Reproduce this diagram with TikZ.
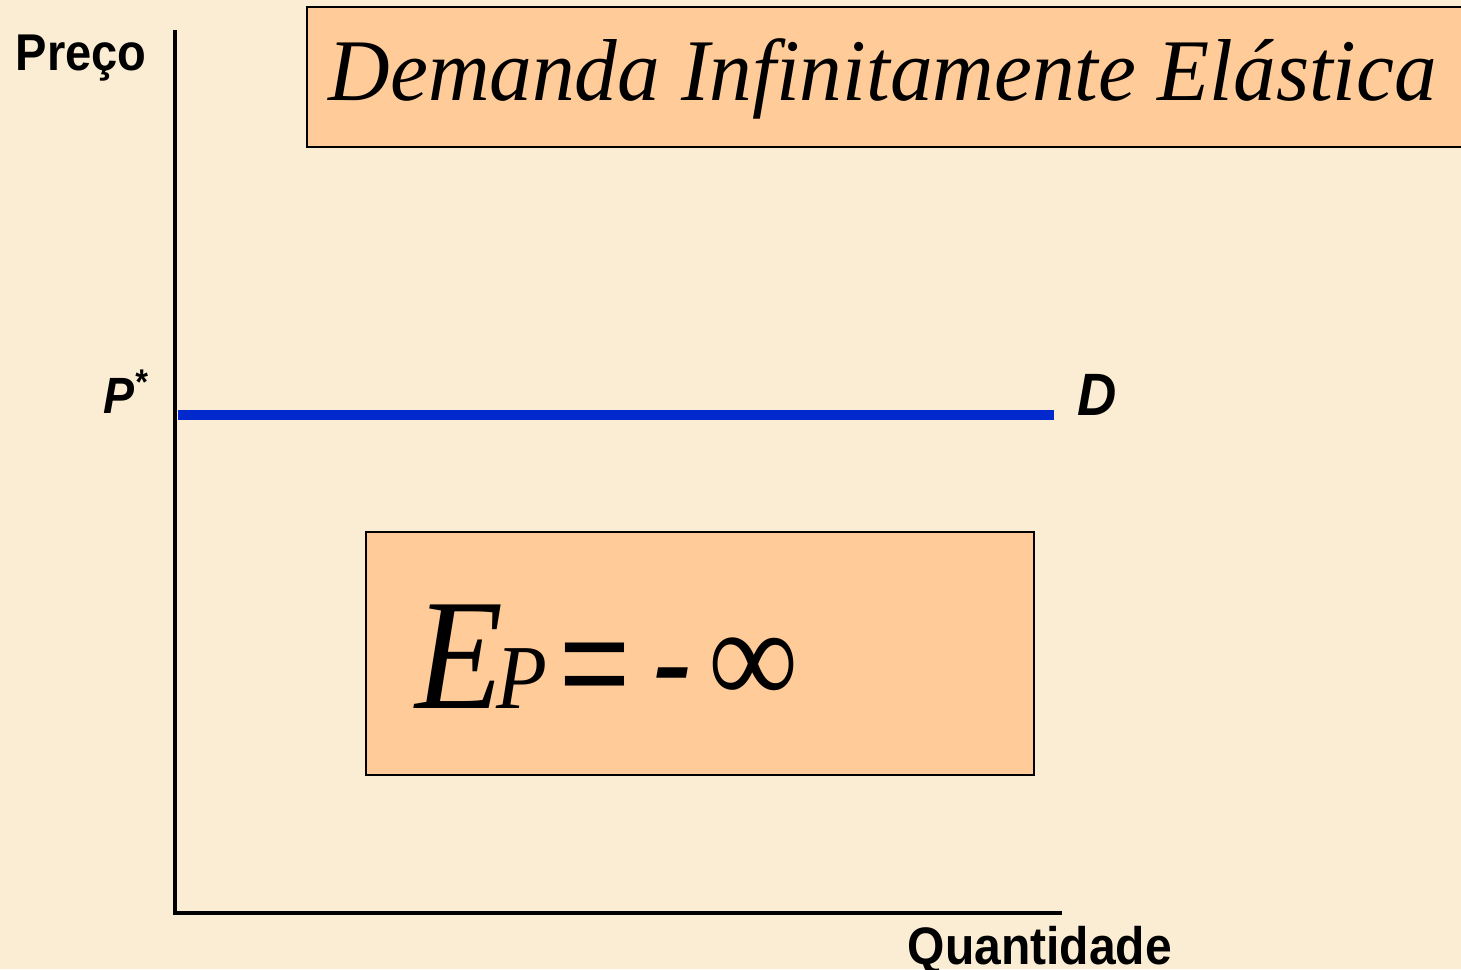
\documentclass[tikz,border=0pt]{standalone}
\usepackage{fontspec}
\setmainfont{Liberation Serif}
\setsansfont{Liberation Sans}[FakeStretch=0.91]
\newfontfamily\tituloFont{Liberation Serif}[FakeStretch=0.97]
\newfontfamily\formulaFont{Liberation Serif}[FakeStretch=0.91]
\usepackage{xcolor}
\definecolor{fundo}{HTML}{FAEDD3}
\definecolor{laranja}{HTML}{FFCC99}
\definecolor{azul}{HTML}{0028CC}

\begin{document}
\begin{tikzpicture}[x=0.01cm, y=-0.01cm,
    rotulo/.style={font=\sffamily\bfseries, inner sep=0pt, anchor=base west},
    caixaLaranja/.style={draw=black, line width=0.6pt, fill=laranja, inner sep=0pt}]
    \useasboundingbox[fill=fundo] (0,0) rectangle (1461,969);
    \clip (0,0) rectangle (1461,969);
    % eixos
    \coordinate (origem) at (175,913);
    \coordinate (topo) at (175,30);
    \coordinate (fimX) at (1062,913);
    \draw[line width=1.15pt] (topo) -- (origem) -- (fimX);
    \node (preco) [rotulo, font=\sffamily\bfseries\fontsize{14.7}{15}\selectfont] at (15,70) {Preço};
    \node (quant) [rotulo, font=\sffamily\bfseries\fontsize{15}{15}\selectfont] at (907,964) {Quantidade};
    % curva de demanda
    \coordinate (dIni) at (178,415);
    \coordinate (dFim) at (1054,415);
    \draw[azul, line width=2.85pt] (dIni) -- (dFim);
    \node (pEstrela) [rotulo, font=\sffamily\bfseries\itshape\fontsize{14.5}{15}\selectfont] at (103,413) {P\textsuperscript{*}};
    \node (dLabel) [rotulo, font=\sffamily\bfseries\itshape\fontsize{17}{17}\selectfont] at (1077,415) {D};
    % titulo
    \node (caixaTitulo) [caixaLaranja, anchor=north west, minimum width=11.9cm, minimum height=1.4cm] at (306,6) {};
    \node (titulo) [anchor=base west, inner sep=0pt, font=\tituloFont\itshape\fontsize{25}{25}\selectfont] at (328,100) {Demanda Infinitamente Elástica};
    % elasticidade
    \node (caixaEp) [caixaLaranja, minimum width=6.68cm, minimum height=2.43cm] at (700,653.5) {};
    \node (formula) [anchor=base west, inner sep=0pt, font=\formulaFont] at (415,708)
      {{\fontsize{45}{45}\selectfont\itshape E}\hspace{-2pt}{\fontsize{26}{26}\selectfont\itshape P}\hspace{3.5pt}{\sffamily\fontsize{38}{38}\selectfont =}\hspace{5.5pt}{\sffamily\itshape\fontsize{38}{38}\selectfont -}\hspace{5pt}\raisebox{1pt}{\fontsize{39.5}{40}\selectfont ∞}};
\end{tikzpicture}
\end{document}
